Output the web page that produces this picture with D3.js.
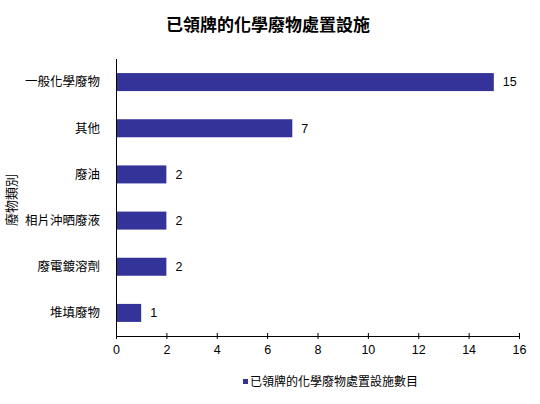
<!DOCTYPE html>
<html>
<head>
<meta charset="utf-8">
<script src="https://cdn.jsdelivr.net/npm/d3@7"></script>
<style>
	body { margin: 0; background: #fff; }
	svg text { font-family: 'Liberation Sans', Arial, 'Noto Sans CJK TC', sans-serif; fill: #000; }
</style>
</head>
<body>
<div class="chart"></div>
<script>
const TITLE = '已領牌的化學廢物處置設施'
const Y_TITLE = '廢物類別'
const SERIES_NAME = '已領牌的化學廢物處置設施數目'
const categories = ['一般化學廢物', '其他', '廢油', '相片沖晒廢液', '廢電鍍溶劑', '堆填廢物']
const values = [15, 7, 2, 2, 2, 1]
const xTicks = [0, 2, 4, 6, 8, 10, 12, 14, 16]

const COLOR = '#333399'
const WIDTH = 540
const HEIGHT = 404
const margin = { top: 59, right: 21, bottom: 68, left: 116 }
const chartWidth = WIDTH - margin.left - margin.right
const chartHeight = HEIGHT - margin.top - margin.bottom

const svg = d3.select('.chart').append('svg')
	.attr('width', WIDTH)
	.attr('height', HEIGHT)

const scaleX = d3.scaleLinear().domain([0, 16]).range([0, chartWidth])
const scaleY = d3.scaleBand().domain(categories).range([0, chartHeight])
	.paddingInner(0.61)
	.paddingOuter(0.305)

svg.append('text')
	.attr('x', 268)
	.attr('y', 31)
	.attr('text-anchor', 'middle')
	.style('font-size', '17px')
	.style('font-weight', 'bold')
	.text(TITLE)

const g = svg.append('g').attr('transform', `translate(${margin.left}, ${margin.top})`)

g.selectAll('.bar').data(values)
	.enter().append('rect')
	.attr('class', 'bar')
	.attr('x', 0)
	.attr('y', (d, i) => scaleY(categories[i]))
	.attr('width', d => scaleX(d))
	.attr('height', scaleY.bandwidth())
	.style('fill', COLOR)

g.selectAll('.value').data(values)
	.enter().append('text')
	.attr('class', 'value')
	.attr('x', d => scaleX(d) + 9)
	.attr('y', (d, i) => scaleY(categories[i]) + scaleY.bandwidth() / 2)
	.attr('dy', '0.35em')
	.style('font-size', '12.5px')
	.text(d => d)

// category labels
g.selectAll('.cat').data(categories)
	.enter().append('text')
	.attr('class', 'cat')
	.attr('x', -16)
	.attr('y', d => scaleY(d) + scaleY.bandwidth() / 2)
	.attr('dy', '0.35em')
	.attr('text-anchor', 'end')
	.style('font-size', '12.5px')
	.text(d => d)

g.append('line')
	.attr('x1', 0.5).attr('x2', 0.5)
	.attr('y1', 0).attr('y2', chartHeight)
	.style('stroke', '#000')

const axisX = g.append('g')
	.attr('transform', `translate(0, ${chartHeight})`)
	.call(d3.axisBottom(scaleX).tickValues(xTicks).tickSize(3).tickSizeOuter(0).tickPadding(6))

axisX.select('.domain').attr('d', `M0,0.5H${chartWidth}`).style('stroke', '#000')
axisX.selectAll('.tick line').attr('y1', -3).attr('y2', 3).style('stroke', '#000')
axisX.selectAll('.tick text').style('font-size', '12.5px').style('font-family', "'Liberation Sans', Arial, sans-serif").attr('fill', '#000')

svg.append('text')
	.attr('transform', `translate(16, 200) rotate(-90)`)
	.attr('text-anchor', 'middle')
	.style('font-size', '13px')
	.text(Y_TITLE)

const legend = svg.append('g').attr('transform', 'translate(243, 382)')
legend.append('rect')
	.attr('x', 0).attr('y', -3)
	.attr('width', 5).attr('height', 5)
	.style('fill', COLOR)
legend.append('text')
	.attr('x', 7)
	.attr('y', 0)
	.attr('dy', '0.35em')
	.style('font-size', '12px')
	.text(SERIES_NAME)
</script>
</body>
</html>
